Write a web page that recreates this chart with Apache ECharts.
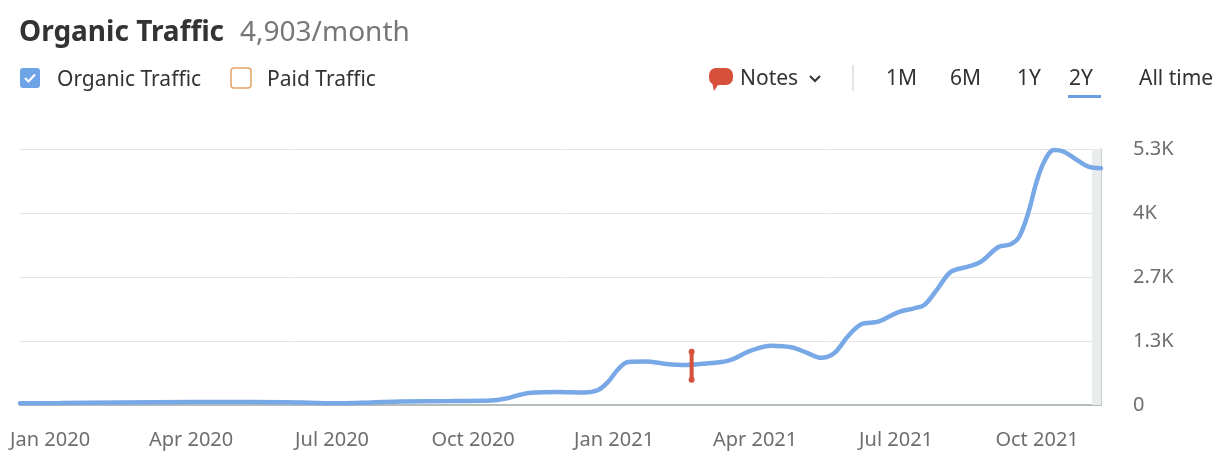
<!DOCTYPE html>
<html lang="en">
<head>
    <meta charset="UTF-8">
    <title>Organic Traffic</title>
    <script type="text/javascript" src="https://cdn.jsdelivr.net/npm/echarts@6/dist/echarts.min.js"></script>
    <style>
        html, body { margin: 0; padding: 0; background: #fff; }
    </style>
</head>
<body>
<div id="myChart" style="width:1224px;height:474px;"></div>
<script type="text/javascript">
    // months counted from Jan 2020 (0 = Jan 2020)
    var months = [-0.64, 0.23, 1.51, 3.0, 4.28, 5.34, 6.19, 6.83, 7.47, 8.53, 9.38, 9.70, 9.98,
        10.23, 10.81, 11.36, 11.66, 11.87, 12.09, 12.30, 12.68, 13.11, 13.53, 13.96, 14.43,
        14.91, 15.34, 15.77, 16.13, 16.40, 16.68, 16.98, 17.26, 17.62, 18.04, 18.38, 18.60,
        18.89, 19.17, 19.53, 19.81, 20.17, 20.45, 20.62, 20.81, 20.98, 21.15, 21.36, 21.57,
        21.87, 22.09, 22.36];
    // organic traffic per month
    var organic = [35, 41, 52, 62, 62, 52, 35, 52, 72, 83, 93, 135, 207,
        255, 269, 259, 311, 476, 745, 890, 900, 849, 828, 859, 917,
        1124, 1228, 1195, 1070, 977, 1070, 1428, 1671, 1725, 1919, 2002, 2070,
        2416, 2760, 2863, 2967, 3265, 3333, 3484, 3969, 4590, 5037, 5279, 5244,
        5058, 4934, 4903];
    var xTickMonths = [0, 3, 6, 9, 12, 15, 18, 21];
    var xTickLabels = ['Jan 2020', 'Apr 2020', 'Jul 2020', 'Oct 2020', 'Jan 2021', 'Apr 2021', 'Jul 2021', 'Oct 2021'];
    var yTickLabels = ['0', '1.3K', '2.7K', '4K', '5.3K'];
    var notes = [[13.65, 835]];
    var monthMin = -0.64, monthMax = 22.36, partialFrom = 22.17;
    var yMax = 5300;

    var FONT = 'Noto Sans';
    var lineData = [];
    for (var i = 0; i < months.length; i++) {
        lineData.push([months[i], organic[i]]);
    }

    var myChart = echarts.init(document.getElementById('myChart'));
    var option = {
        animation: false,
        textStyle: { fontFamily: FONT },
        grid: { left: 20, right: 123, top: 149, bottom: 69 },
        xAxis: {
            type: 'value',
            min: monthMin,
            max: monthMax,
            axisLine: { show: true, onZero: false, lineStyle: { color: '#b4bcbc', width: 2 } },
            axisTick: { show: false },
            splitLine: { show: false },
            axisLabel: {
                customValues: xTickMonths,
                margin: 25,
                fontSize: 20,
                color: '#6e6e6e',
                fontFamily: FONT,
                formatter: function (v) {
                    var k = xTickMonths.indexOf(Math.round(v));
                    return k >= 0 ? xTickLabels[k] : '';
                }
            }
        },
        yAxis: {
            type: 'value',
            position: 'right',
            min: 0,
            max: yMax,
            interval: yMax / 4,
            axisLine: { show: true, onZero: false, lineStyle: { color: '#bcc2c2', width: 1.5 } },
            axisTick: { show: false },
            splitLine: { lineStyle: { color: '#e4e4e4', width: 1 } },
            axisLabel: {
                margin: 32,
                fontSize: 20,
                color: '#6e6e6e',
                fontFamily: FONT,
                formatter: function (v) {
                    return yTickLabels[Math.round(v / (yMax / 4))];
                }
            }
        },
        series: [
            {
                name: 'Organic Traffic',
                type: 'line',
                data: lineData,
                smooth: 0.35,
                showSymbol: false,
                lineStyle: { color: '#78a8e6', width: 4.5, cap: 'round' },
                markArea: {
                    silent: true,
                    itemStyle: { color: '#e9eced' },
                    data: [[{ xAxis: partialFrom }, { xAxis: monthMax }]]
                },
                z: 3
            },
            {
                name: 'Notes',
                type: 'custom',
                data: notes,
                z: 5,
                renderItem: function (params, api) {
                    var p = api.coord([api.value(0), api.value(1)]);
                    var c = '#d6503c';
                    return {
                        type: 'group',
                        children: [
                            { type: 'line', shape: { x1: p[0], y1: p[1] - 13, x2: p[0], y2: p[1] + 15 },
                              style: { stroke: c, lineWidth: 4 } },
                            { type: 'circle', shape: { cx: p[0], cy: p[1] - 13, r: 3 }, style: { fill: c } },
                            { type: 'circle', shape: { cx: p[0], cy: p[1] + 15, r: 3 }, style: { fill: c } }
                        ]
                    };
                }
            }
        ],
        graphic: [
            { type: 'text', left: 19, top: 19,
              style: { text: 'Organic Traffic', font: 'bold 28px "Noto Sans"', fill: '#333' } },
            { type: 'text', left: 240, top: 19,
              style: { text: '4,903/month', font: '28px "Noto Sans"', fill: '#777' } },
            // legend checkboxes
            { type: 'rect', shape: { x: 20, y: 68, width: 20, height: 20, r: 3 }, style: { fill: '#6fa3e8' } },
            { type: 'polyline', shape: { points: [[25, 78], [28.5, 81.5], [35, 74.5]] },
              style: { stroke: '#fff', lineWidth: 2.2, fill: null } },
            { type: 'text', left: 57, top: 70,
              style: { text: 'Organic Traffic', font: '21px "Noto Sans"', fill: '#333' } },
            { type: 'rect', shape: { x: 231, y: 68, width: 20, height: 20, r: 3 },
              style: { fill: '#fff', stroke: '#e3a26a', lineWidth: 1.5 } },
            { type: 'text', left: 267, top: 70,
              style: { text: 'Paid Traffic', font: '21px "Noto Sans"', fill: '#333' } },
            // notes button
            { type: 'rect', shape: { x: 709, y: 68, width: 24, height: 17, r: 7 }, style: { fill: '#d6503c' } },
            { type: 'polygon', shape: { points: [[712, 82], [720, 82], [714, 91]] }, style: { fill: '#d6503c' } },
            { type: 'text', left: 740, top: 69,
              style: { text: 'Notes', font: '21px "Noto Sans"', fill: '#333' } },
            { type: 'polyline', shape: { points: [[810, 76], [815, 81], [820, 76]] },
              style: { stroke: '#333', lineWidth: 2, fill: null } },
            { type: 'line', shape: { x1: 853, y1: 65, x2: 853, y2: 91 }, style: { stroke: '#dcdcdc', lineWidth: 1.5 } },
            // period switch
            { type: 'text', left: 886, top: 69, style: { text: '1M', font: '21px "Noto Sans"', fill: '#333' } },
            { type: 'text', left: 950, top: 69, style: { text: '6M', font: '21px "Noto Sans"', fill: '#333' } },
            { type: 'text', left: 1017, top: 69, style: { text: '1Y', font: '21px "Noto Sans"', fill: '#333' } },
            { type: 'text', left: 1069, top: 69, style: { text: '2Y', font: '21px "Noto Sans"', fill: '#333' } },
            { type: 'rect', shape: { x: 1068, y: 95, width: 33, height: 3 }, style: { fill: '#6b9ee0' } },
            { type: 'text', left: 1139, top: 69, style: { text: 'All time', font: '21px "Noto Sans"', fill: '#333' } }
        ]
    };
    myChart.setOption(option);
</script>
</body>
</html>
